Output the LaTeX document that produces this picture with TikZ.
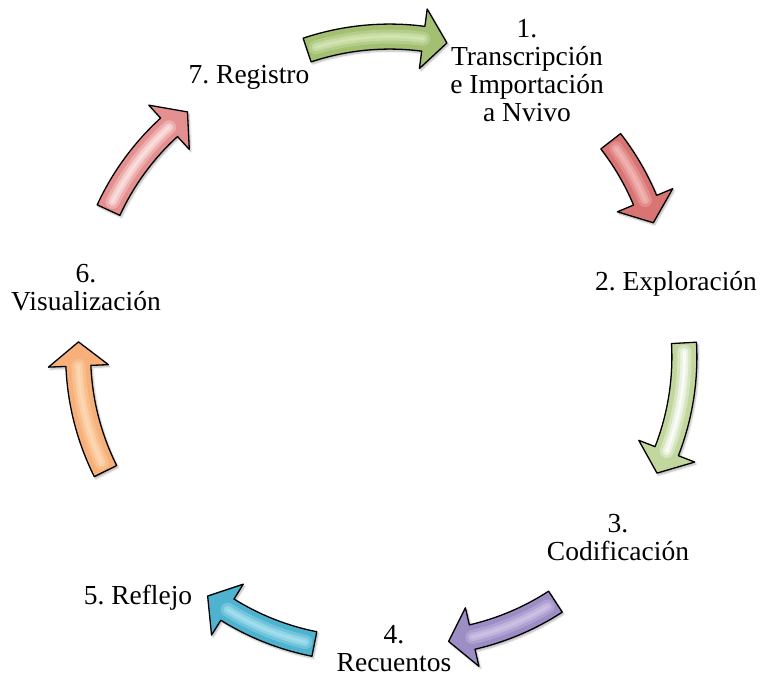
\documentclass[tikz,border=0pt]{standalone}
\usepackage{fontspec}
\setmainfont{Liberation Serif}
\usetikzlibrary{shadows.blur}
\frenchspacing

% palette of the seven process arrows
\definecolor{grnA}{HTML}{A2BF72}\definecolor{grnAglow}{HTML}{D6E8B6}
\definecolor{redA}{HTML}{D87473}\definecolor{redAglow}{HTML}{F3B9B7}
\definecolor{grnB}{HTML}{C2D79E}\definecolor{grnBglow}{HTML}{FFFFFF}
\definecolor{purA}{HTML}{9D8DC5}\definecolor{purAglow}{HTML}{CFC6E6}
\definecolor{cyaA}{HTML}{4FB3CF}\definecolor{cyaAglow}{HTML}{ABE2F0}
\definecolor{oraA}{HTML}{F8B07A}\definecolor{oraAglow}{HTML}{FDDAB6}
\definecolor{redB}{HTML}{E59090}\definecolor{redBglow}{HTML}{FCE4E4}

% geometry of a curved block arrow
\def\Rr{260}  % curvature radius of the shaft centre line
\def\Wd{12.5} % half width of the shaft
\def\Hd{30}   % half width of the head
\def\Lh{24}   % length of the head

\tikzset{
  arrowbody/.style={draw=black, line width=1.3pt, line join=round,
    blur shadow={shadow xshift=1.5pt, shadow yshift=-2pt, shadow opacity=30,
      shadow blur steps=6}},
  stagetext/.style={align=center, inner sep=0pt,
    font=\rmfamily\fontsize{27.5}{28}\selectfont}
}

% \cyclearrow{x}{y}{direction}{tail-to-tip length}{fill}{highlight}
\newcommand{\cyclearrow}[6]{%
  \pgfmathsetmacro\sA{asin(#4/(2*\Rr))}%
  \pgfmathsetmacro\cy{-\Rr*cos(\sA)}%
  \pgfmathsetmacro\ha{\Lh/\Rr*180/pi}%
  \pgfmathsetmacro\aT{90+\sA}%
  \pgfmathsetmacro\aP{90-\sA}%
  \pgfmathsetmacro\aB{90-\sA+\ha}%
  \pgfmathsetmacro\aG{90+\sA-2}%
  \begin{scope}[shift={(#1,-#2)}, rotate=#3]
    \begin{scope}[shift={(0,\cy)}]
      \path[arrowbody, fill=#5]
        ({\aT}:{\Rr+\Wd}) arc[start angle=\aT, end angle=\aB, radius=\Rr+\Wd]
        -- ({\aB}:{\Rr+\Hd}) -- ({\aP}:{\Rr}) -- ({\aB}:{\Rr-\Hd})
        -- ({\aB}:{\Rr-\Wd}) arc[start angle=\aB, end angle=\aT, radius=\Rr-\Wd]
        -- cycle;
      % glossy highlight along the shaft
      \draw[#6, opacity=0.35, line width=14pt, line cap=round]
        ({\aG}:{\Rr}) arc[start angle=\aG, end angle=\aB, radius=\Rr];
      \draw[#6, opacity=0.55, line width=8pt, line cap=round]
        ({\aG}:{\Rr}) arc[start angle=\aG, end angle=\aB, radius=\Rr];
      \draw[#6, opacity=0.7, line width=3pt, line cap=round]
        ({\aG}:{\Rr}) arc[start angle=\aG, end angle=\aB, radius=\Rr];
    \end{scope}
  \end{scope}}

\begin{document}
\begin{tikzpicture}[x=1pt, y=1pt]
  \useasboundingbox (0,0) rectangle (760,-677);

  % stage labels
  \node[stagetext] (s1) at (527,-71) {1.\\Transcripción\\e Importación\\a Nvivo};
  \node[stagetext, anchor=base] (s2) at (676,-290) {2. Exploración};
  \node[stagetext] (s3) at (618,-538) {3.\\Codificación};
  \node[stagetext] (s4) at (394,-649) {4.\\Recuentos};
  \node[stagetext, anchor=base] (s5) at (138,-604) {5. Reflejo};
  \node[stagetext] (s6) at (86,-288) {6.\\Visualización};
  \node[stagetext, anchor=base] (s7) at (249,-84) {7. Registro};

  % arrows between consecutive stages, clockwise
  \cyclearrow{377}{46.5}{2.9}{140}{grnA}{grnAglow}
  \cyclearrow{632}{182}{-62.4}{92}{redA}{redAglow}
  \cyclearrow{670.5}{408}{-101.7}{133}{grnB}{grnBglow}
  \cyclearrow{502}{621.5}{200.4}{114}{purA}{purAglow}
  \cyclearrow{261}{620}{155.8}{117}{cyaA}{cyaAglow}
  \cyclearrow{92}{406.5}{101.8}{132}{oraA}{oraAglow}
  \cyclearrow{148}{161}{51.2}{126}{redB}{redBglow}
\end{tikzpicture}
\end{document}
